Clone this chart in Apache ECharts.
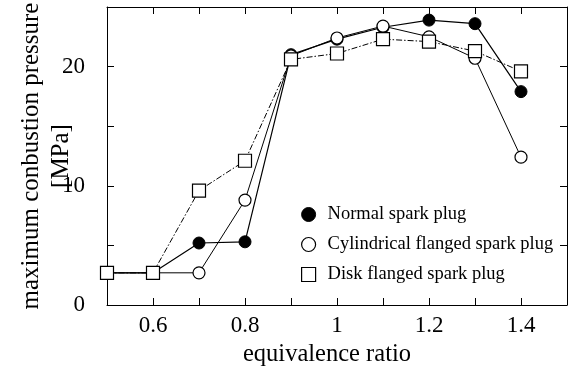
<!DOCTYPE html>
<html><head><meta charset="utf-8">
<script src="https://cdn.jsdelivr.net/npm/echarts@6/dist/echarts.min.js"></script>
<style>html,body{margin:0;padding:0;background:#fff}#c{width:572px;height:370px}</style>
</head><body><div id="c"></div>
<script>
const xValues = [0.5, 0.6, 0.7, 0.8, 0.9, 1.0, 1.1, 1.2, 1.3, 1.4];
const normalPlug = [2.7, 2.7, 5.2, 5.3, 21.0, 22.3, 23.3, 23.9, 23.6, 17.9];
const cylindricalPlug = [2.7, 2.7, 2.7, 8.8, 20.9, 22.4, 23.4, 22.5, 20.7, 12.4];
const diskPlug = [2.7, 2.7, 9.6, 12.1, 20.6, 21.1, 22.3, 22.1, 21.3, 19.6];
const seriesNames = ['Normal spark plug', 'Cylindrical flanged spark plug', 'Disk flanged spark plug'];
const xLabels = [0.6, 0.8, 1, 1.2, 1.4];
const yLabels = [0, 10, 20];

const pair = arr => xValues.map((x, i) => [x, arr[i]]);
const font = '"Liberation Serif", "DejaVu Serif", serif';
const chart = echarts.init(document.getElementById('c'));
const axisCommon = {
  axisLine: { show: true, onZero: false, lineStyle: { color: '#000', width: 1 } },
  axisTick: { show: true, inside: true, length: 7, lineStyle: { color: '#000', width: 1 } },
  splitLine: { show: false },
};
chart.setOption({
  backgroundColor: '#fff',
  animation: false,
  textStyle: { fontFamily: font, color: '#000' },
  grid: { left: 107, top: 7, right: 5, bottom: 65, containLabel: false, outerBoundsMode: 'none' },
  xAxis: [
    Object.assign({
      type: 'value', min: 0.5, max: 1.5, interval: 0.1, position: 'bottom',
      name: 'equivalence ratio', nameLocation: 'middle', nameGap: 36,
      nameTextStyle: { fontFamily: font, fontSize: 24.5, color: '#000', padding: [0, 20, 0, 0] },
      axisLabel: {
        fontFamily: font, fontSize: 23, color: '#000', margin: 9,
        formatter: v => { const r = Math.round(v * 10) / 10; return xLabels.some(l => Math.abs(l - r) < 1e-6) ? String(r) : ''; }
      }
    }, axisCommon),
    Object.assign({
      type: 'value', min: 0.5, max: 1.5, interval: 0.1, position: 'top',
      axisLabel: { show: false }
    }, axisCommon)
  ],
  yAxis: [
    Object.assign({
      type: 'value', min: 0, max: 25, interval: 5, position: 'left',
      name: 'maximum conbustion pressure\n[MPa]', nameLocation: 'middle', nameGap: 31, nameRotate: 90,
      nameMoveOverlap: false,
      nameTextStyle: { fontFamily: font, fontSize: 25, color: '#000', lineHeight: 30 },
      axisLabel: {
        fontFamily: font, fontSize: 23, color: '#000', margin: 22,
        formatter: v => yLabels.includes(v) ? String(v) : ''
      }
    }, axisCommon),
    Object.assign({
      type: 'value', min: 0, max: 25, interval: 5, position: 'right',
      axisLabel: { show: false }
    }, axisCommon)
  ],
  legend: {
    orient: 'vertical', left: 296, top: 200, itemWidth: 14, itemHeight: 14, itemGap: 11,
    textStyle: { fontFamily: font, fontSize: 18.5, color: '#000', padding: [0, 0, 0, 7] },
    data: [
      { name: seriesNames[0], icon: 'circle', itemStyle: { color: '#000', borderColor: '#000', borderWidth: 1 } },
      { name: seriesNames[1], icon: 'circle', itemStyle: { color: '#fff', borderColor: '#000', borderWidth: 1.2 } },
      { name: seriesNames[2], icon: 'rect', itemStyle: { color: '#fff', borderColor: '#000', borderWidth: 1.2 } }
    ]
  },
  series: [
    {
      name: seriesNames[0], type: 'line', data: pair(normalPlug), z: 2,
      symbol: 'circle', symbolSize: 12,
      itemStyle: { color: '#000', borderColor: '#000', borderWidth: 1 },
      lineStyle: { color: '#000', width: 1.2, type: 'solid' }
    },
    {
      name: seriesNames[1], type: 'line', data: pair(cylindricalPlug), z: 3,
      symbol: 'circle', symbolSize: 12,
      itemStyle: { color: '#fff', borderColor: '#000', borderWidth: 1.2 },
      lineStyle: { color: '#000', width: 1, type: 'solid' }
    },
    {
      name: seriesNames[2], type: 'line', data: pair(diskPlug), z: 4,
      symbol: 'rect', symbolSize: 13,
      itemStyle: { color: '#fff', borderColor: '#000', borderWidth: 1.2 },
      lineStyle: { color: '#000', width: 1, type: [6, 2, 1.5, 2] }
    }
  ]
});
</script></body></html>
